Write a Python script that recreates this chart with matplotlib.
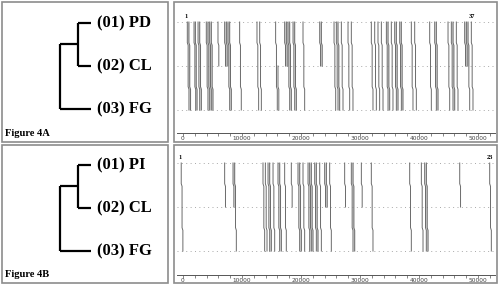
import matplotlib
matplotlib.use("Agg")
import matplotlib.pyplot as plt
import numpy as np
from matplotlib.patches import Rectangle

# ---------------- data ----------------
taxa_a = ["(01) PD", "(02) CL", "(03) FG"]
taxa_b = ["(01) PI", "(02) CL", "(03) FG"]
captions = ["Figure 4A", "Figure 4B"]
# tree: leaf depth 1.0, inner node (joins leaves 1 & 2) depth 0.58, root depth 0
inner_depth = 0.58

# traces: position (bp), start level, end level (0 = taxon 1, 1 = taxon 2, 2 = taxon 3)
trace_a_x = [730, 1000, 1870, 2100, 2550, 2830, 3950, 4240, 4520, 4800,
             5930, 7060, 7350, 7630, 7910, 9600, 12540, 13000, 15700, 16100,
             17230, 17520, 17800, 18080, 18650, 18930, 20340, 23170, 23450, 25600,
             25990, 26270, 26840, 27970, 28530, 31920, 32490, 33050, 33620, 34470,
             34750, 35310, 35880, 36160, 36730, 37000, 38700, 39270, 41810, 42660,
             42940, 44920, 45480, 45770, 46330, 47740, 48030, 48310, 48870]
trace_a_start = [0, 0, 0, 0, 0, 0, 0, 0, 0, 0,
                 0, 0, 0, 0, 0, 0, 0, 0, 0, 1,
                 0, 0, 0, 0, 0, 0, 0, 0, 0, 0,
                 0, 0, 0, 0, 0, 0, 0, 0, 0, 0,
                 0, 0, 0, 0, 0, 0, 0, 0, 0, 0,
                 0, 0, 0, 0, 0, 0, 0, 0, 0]
trace_a_end = [2, 2, 2, 2, 2, 2, 2, 2, 2, 2,
               1, 1, 1, 2, 2, 2, 2, 2, 2, 2,
               1, 1, 2, 2, 2, 2, 2, 1, 1, 2,
               2, 2, 2, 2, 2, 2, 2, 2, 2, 2,
               2, 2, 2, 2, 2, 2, 2, 2, 2, 2,
               2, 2, 2, 2, 2, 1, 1, 2, 2]

trace_b_x = [-300, 7060, 8480, 8760, 13560, 13960, 14410, 14690, 15260, 16100,
             16390, 17230, 18360, 19490, 19780, 20340, 21190, 21470, 21750, 22320,
             22600, 23170, 24010, 24300, 24860, 27400, 28530, 28820, 30230, 31920,
             38420, 40400, 40960, 41250, 46900, 51980]
trace_b_start = [0] * 36
trace_b_end = [2, 1, 1, 2, 2, 2, 2, 2, 2, 2,
               2, 2, 1, 2, 2, 2, 2, 2, 2, 2,
               2, 2, 1, 1, 2, 1, 2, 2, 1, 2,
               2, 2, 2, 2, 1, 2]
trace_labels_a = ["1", "37"]
trace_labels_b = ["1", "23"]

xticks_major = [0, 10000, 20000, 30000, 40000, 50000]
xtick_minor_step = 2000

# ---------------- helpers ----------------
W, H = 500, 285
fig = plt.figure(figsize=(W / 100, H / 100), dpi=100)
SERIF = ["Liberation Serif", "DejaVu Serif"]


def px_rect(x0, y0, x1, y1):
    return [x0 / W, 1 - y1 / H, (x1 - x0) / W, (y1 - y0) / H]


def box(x0, y0, x1, y1):
    fig.patches.append(Rectangle((x0 / W, 1 - y1 / H), (x1 - x0) / W, (y1 - y0) / H,
                                 transform=fig.transFigure, fill=False,
                                 edgecolor="#8c8c8c", lw=1.2))


def tree_panel(rect, ylim, taxa, caption, cap_y):
    ax = fig.add_axes(rect)
    ax.set_xlim(-1.871, 3.484)
    ax.set_ylim(*ylim)
    ax.axis("off")
    lw = 1.6
    ax.hlines([0, 1], inner_depth, 1.0, color="black", lw=lw)
    ax.hlines([2], 0, 1.0, color="black", lw=lw)
    ax.vlines(inner_depth, 0, 1, color="black", lw=lw)
    ax.hlines(0.5, 0, inner_depth, color="black", lw=lw)
    ax.vlines(0, 0.5, 2, color="black", lw=lw)
    for i, t in enumerate(taxa):
        ax.text(1.19, i, t, family=SERIF, weight="bold", fontsize=12,
                ha="left", va="center")
    ax.text(-1.77, cap_y, caption, family=SERIF, weight="bold", fontsize=7.6,
            ha="left", va="center")


def trace_panel(rect, ylim, axis_y, xs, starts, ends, labels):
    ax = fig.add_axes(rect)
    ax.set_xlim(-1525, 53220)
    ax.set_ylim(*ylim)
    for s in ["top", "left", "right"]:
        ax.spines[s].set_visible(False)
    ax.spines["bottom"].set_position(("data", axis_y))
    ax.spines["bottom"].set_bounds(-1000, 52900)
    ax.spines["bottom"].set_linewidth(0.7)
    ax.spines["bottom"].set_color("#555555")
    ax.set_yticks([])
    ax.set_xticks(xticks_major)
    ax.set_xticklabels([str(v) for v in xticks_major])
    ax.set_xticks(range(0, 52001, xtick_minor_step), minor=True)
    ax.tick_params(axis="x", which="both", length=2, width=0.5, color="#555555",
                   pad=0.5, labelsize=4.2, labelcolor="#444444")
    ax.patch.set_alpha(0)
    ax.hlines([0, 1, 2], -1000, 52900, color="#a8a8a8", lw=0.7,
              linestyles=[(0, (1, 3.5))])
    d = 140
    polys = []
    for x, s, e in zip(xs, starts, ends):
        px, py = [x], [s]
        off = 0
        for k in range(s, e):
            px.append(x + off); py.append(k + 0.5 - 0.03)
            off += d
            px.append(x + off); py.append(k + 0.5 + 0.03)
        px.append(x + off); py.append(e)
        polys.append((px, py, s, e))
    for (ax1, ay1, s1, e1), (ax2, ay2, s2, e2) in zip(polys[:-1], polys[1:]):
        if ax2[0] - ax1[0] < 330:
            lo, hi = max(s1, s2), min(e1, e2)
            if hi > lo:
                yy = np.linspace(lo, hi, 200)
                x1 = np.interp(yy, ay1, ax1)
                x2 = np.interp(yy, ay2, ax2)
                ax.fill_betweenx(yy, x1, x2, color="#dadada", lw=0)
    for px, py, s, e in polys:
        ax.plot(px, py, color="#6a6a6a", lw=0.7)
    ax.text(xs[0] - 200, -0.06, labels[0], fontsize=4.5, weight="bold",
            ha="center", va="bottom", family=SERIF)
    ax.text(xs[-1] + 100, -0.06, labels[1], fontsize=4.5, weight="bold",
            ha="center", va="bottom", family=SERIF)


box(2, 2, 168, 142)
box(174, 2, 497, 142)
box(2, 145, 168, 283)
box(174, 145, 497, 283)

tree_panel(px_rect(2, 2, 168, 142), (2.767, -0.488), taxa_a, captions[0], 2.56)
tree_panel(px_rect(2, 145, 168, 283), (2.744, -0.465), taxa_b, captions[1], 2.55)

trace_panel(px_rect(174, 2, 497, 142), (2.727, -0.4545), 2.52,
            trace_a_x, trace_a_start, trace_a_end, trace_labels_a)
trace_panel(px_rect(174, 145, 497, 283), (2.727, -0.409), 2.545,
            trace_b_x, trace_b_start, trace_b_end, trace_labels_b)

fig.savefig("out.png", dpi=100)
